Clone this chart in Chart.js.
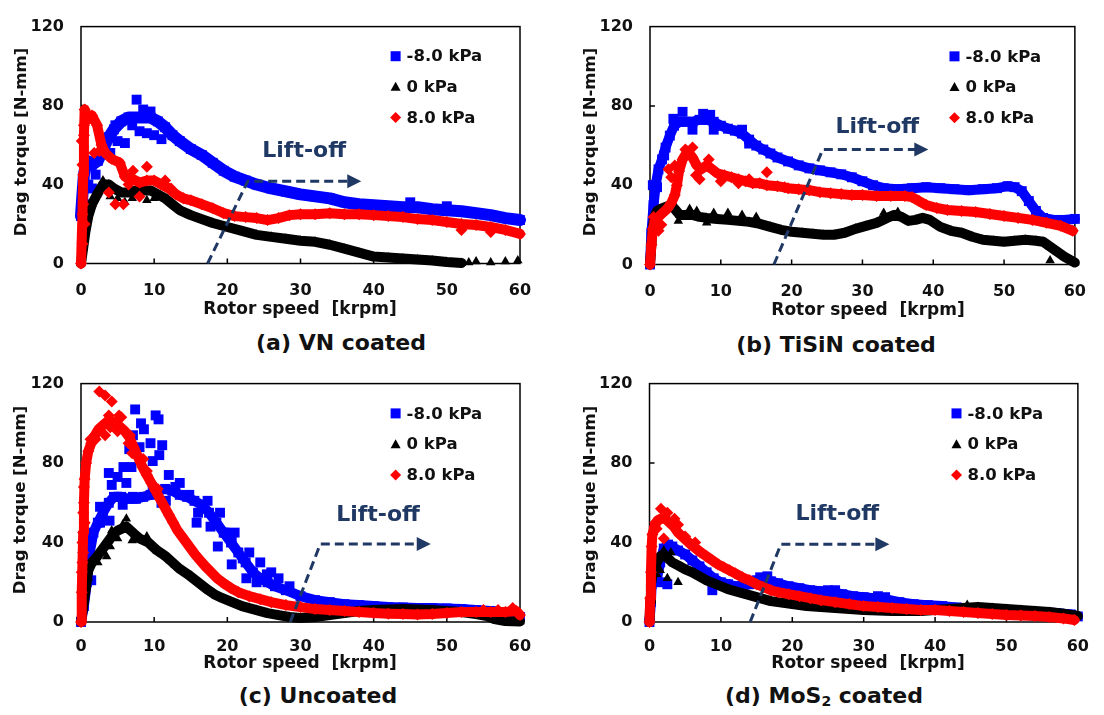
<!DOCTYPE html>
<html lang="en">
<head>
<meta charset="UTF-8">
<title>Drag torque vs rotor speed</title>
<script src="https://cdn.jsdelivr.net/npm/chart.js"></script>
<style>
  body { margin: 0; background: #fff; }
  #fig { position: relative; width: 1104px; height: 715px; font-family: "DejaVu Sans", sans-serif; font-weight: bold; color: #111; }
  #fig canvas { position: absolute; }
  .cap { position: absolute; font-size: 22px; transform: translate(-50%, -50%); white-space: nowrap; }
  .xt { position: absolute; font-size: 17px; transform: translate(-50%, -50%); white-space: nowrap; }
  .yt { position: absolute; font-size: 16.5px; transform: translate(-50%, -50%) rotate(-90deg); white-space: nowrap; }
  sub { font-size: 14px; vertical-align: -3px; line-height: 0; }
</style>
</head>
<body>
<div id="fig">
  <canvas id="chartA" width="552" height="320" style="left:0;top:0"></canvas>
  <canvas id="chartB" width="552" height="320" style="left:552px;top:0"></canvas>
  <canvas id="chartC" width="552" height="320" style="left:0;top:357px"></canvas>
  <canvas id="chartD" width="552" height="320" style="left:552px;top:357px"></canvas>

  <div class="yt" style="left:20px;top:142px">Drag torque [N-mm]</div>
  <div class="yt" style="left:589px;top:142px">Drag torque [N-mm]</div>
  <div class="yt" style="left:19px;top:500px">Drag torque [N-mm]</div>
  <div class="yt" style="left:589px;top:500px">Drag torque [N-mm]</div>

  <div class="xt" style="left:300px;top:308px">Rotor speed&nbsp; [krpm]</div>
  <div class="xt" style="left:868px;top:309px">Rotor speed&nbsp; [krpm]</div>
  <div class="xt" style="left:300px;top:662px">Rotor speed&nbsp; [krpm]</div>
  <div class="xt" style="left:868px;top:662px">Rotor speed&nbsp; [krpm]</div>

  <div class="cap" style="left:341px;top:342px">(a) VN coated</div>
  <div class="cap" style="left:836px;top:344px">(b) TiSiN coated</div>
  <div class="cap" style="left:318px;top:695px">(c) Uncoated</div>
  <div class="cap" style="left:824px;top:695px">(d) MoS<sub>2</sub> coated</div>
</div>

<script>
// ---- data: [rotor speed krpm, drag torque N-mm] ----
const seriesNames = ['-8.0 kPa', '0 kPa', '8.0 kPa'];
const xTickValues = [0, 10, 20, 30, 40, 50, 60];
const yTickValues = [0, 40, 80, 120];

// (a) VN coated
const vnNeg = [[0,24],[0.2,35],[0.4,45],[0.8,52],[1.5,50],[2.3,52],[3,58],[3.8,64],[4.5,68],[5.5,72],[6.5,74],[7.5,74],[8.5,74],[9.5,74],[10.5,72],[11.5,69],[12.5,65],[13.5,62],[15,58],[16.5,55],[18,51],[19.5,47],[21,44],[22.5,42],[24,40],[26,38],[28,36.5],[30,35],[32,34],[34,33],[36,31],[38,30],[40,29.5],[42,29],[44,28.5],[46,28.5],[48,27.5],[50,27],[52,26.5],[54,25.5],[56,24.5],[58,23],[60,22]];
const vnNegDots = [[7.6,83],[8.5,78],[9.5,77],[7,70],[8,67],[9,66],[10,65],[11,63],[5,62],[4,56],[1,40],[1.5,38],[2,45],[0.5,30],[6,61],[45,31],[50,29],[3.3,61],[4.7,70]];
const vnZero = [[0,0],[0.3,8],[0.6,16],[1,24],[1.5,30],[2.2,35],[3,40],[3.8,40],[4.5,38],[5.5,36],[6.5,36],[7.5,37],[8.5,37],[9.5,37],[10.5,35],[11.5,33],[12.5,30],[13.5,27],[15,24.5],[16.5,22.5],[18,20.5],[20,18.5],[22,16.5],[24,14.5],[26,13.5],[28,12.5],[30,11.5],[32,11],[34,9.5],[36,7.5],[38,5.5],[40,3.5],[42,3],[44,2.5],[46,2],[48,1.5],[50,0.8],[52,0.3]];
const vnZeroDots = [[3,42],[5,33],[6,31],[7,33],[9,32],[10,33],[4,34],[54,1],[56,0.5],[58,1],[59.7,1.5],[53,0.5]];
const vnPos = [[0,0],[0.2,25],[0.3,45],[0.4,65],[0.5,78],[1,73],[1.5,75],[2.2,70],[2.8,60],[3.3,56],[4.2,53],[5.3,51],[6,44],[7,43],[8,41],[9,42],[10,42],[11,40],[12,38],[13,35],[14,33],[15,32],[16.5,30],[18,28],[19.5,25.5],[21,24],[22.5,23.5],[24,23],[25.5,22],[27,23],[28.5,24.5],[30,25],[32,25],[34,25.5],[36,25],[38,25],[40,24.5],[42,24],[44,23.5],[46,22.5],[48,22],[50,21],[52,20],[54,19.5],[56,18.5],[58,17],[60,15]];
const vnPosDots = [[0.2,50],[0.1,62],[0.4,70],[1.8,56],[2.5,57],[3.8,36],[4.7,30],[5.8,30],[7.1,47],[9,49],[6.5,40],[8,34],[11.5,42],[12.3,38],[0.5,20],[0.3,30],[0.2,10],[52,17],[56,16]];
const vnLift = [[17.3,0],[22.8,41.7],[38.3,41.7]];
const vnLiftLabel = [30.5, 57];

// (b) TiSiN coated
const tiNeg = [[0,0],[0.2,16],[0.5,30],[0.8,40],[1.2,48],[1.7,53],[2.2,59],[2.8,65],[3.4,70],[4.2,72],[5,72],[6,72],[7,73],[8,73],[9,72],[10,70],[11,68.5],[12,67.5],[13,66],[14,63],[15,60],[16,58],[17,56],[18,54],[19.5,52],[21,50],[22.5,48.5],[24,47.5],[25.5,46.5],[27,45.5],[28.5,44],[30,42],[31.5,40],[33,38.5],[35,38],[37,38.5],[39,39],[41,38.5],[43,38],[45,37.5],[47,38],[49,38.5],[50.5,39.5],[51.5,39],[52.5,37],[53.5,32],[54.5,27],[55.5,23.5],[57,22.5],[58.5,22.5],[60,23]];
const tiNegDots = [[4.6,77],[7.5,76],[8.5,75.5],[3.3,73.5],[2,55],[0.4,40],[1,39],[14,61],[13,68],[6,68],[9,68]];
const tiZero = [[0,0],[0.3,15],[0.6,24],[1,27],[1.5,28],[2.2,29],[3,30],[3.5,28],[4.2,25],[5,25],[6,25],[7,24],[8,23.5],[9.5,23],[11,22.5],[12.5,22],[14,21.5],[15.5,20.5],[17,19],[18.5,17.5],[20,16.5],[21.5,16],[23,15.5],[24.5,15],[26,15],[27.5,16],[29,18],[30.5,19.5],[32,21],[33.5,23.5],[34.5,25],[35.5,24],[36.5,22],[37.5,22.5],[38.5,23.5],[39.5,22.5],[41,19],[42.5,17],[44,16],[45.5,14],[47,12.5],[48.5,12],[50,11.5],[51.5,12],[53,12.5],[54.5,12],[55.5,11.5],[56.5,9],[57.5,6.5],[58.5,4],[59.5,2],[60,1]];
const tiZeroDots = [[56.5,2],[3.1,32],[5.6,28],[6.6,27],[9,26],[11,26],[13,25],[15,24],[33,26],[35,26.5],[4,22],[8,21]];
const tiPos = [[0,0],[0.2,10],[0.4,18],[0.7,22],[1.2,24],[1.8,26],[2.4,28],[3,31],[3.5,35],[3.8,40],[4.1,47],[4.6,53],[5.3,57],[6,54],[6.6,50],[7.2,48],[8,50],[8.8,48],[9.5,46],[10.5,45],[11.5,44],[12.5,43],[13.5,42],[14.5,41],[15.5,41],[16.5,40],[18,39.5],[19.5,38.5],[21,38],[22.5,37.5],[24,36.5],[25.5,36],[27,35.5],[28.5,35],[30,35],[32,34.5],[34,34.5],[36,34.5],[37,34],[38,32],[39,30],[40.5,28.5],[42,27.5],[44,27],[46,26.5],[48,25.5],[50,24.5],[52,23.5],[54,22.5],[56,21],[58,19.5],[59.7,17]];
const tiPosDots = [[2.6,48],[3.5,50],[5,58],[6,59],[7,43],[6.5,45],[8.3,53],[16.5,46.5],[14,43],[3,44],[1.2,17],[1.6,20],[0.5,24],[12.5,41],[19,39],[10,42]];
const tiLift = [[17.5,0],[24.4,58],[39.3,58]];
const tiLiftLabel = [32.1, 69.2];

// (c) Uncoated
const unNeg = [[0,0],[0.4,8],[0.8,20],[1.2,35],[1.7,45],[2.3,50],[3,55],[3.8,60],[4.5,63],[5.5,63],[6.5,62],[7.5,62],[8.5,63],[9.5,64],[10.5,66],[11.5,67],[12.5,66],[13.5,64],[14.5,63],[15.5,61],[16.5,59],[17.5,55],[18.5,50],[19.5,45],[20.5,40],[21.5,35],[22.5,30],[23.5,25],[24.5,22],[25.5,20],[26.5,18],[28,16],[30,13],[32,11],[34,10],[36,9],[38,8.5],[40,8],[42,7.5],[44,7.3],[46,7],[48,7],[50,6.8],[52,6.5],[54,6],[56,5.5],[58,4.5],[60,2.5]];
const unNegDots = [[5,73],[5.8,78],[6.2,70],[4.2,69],[3.8,75],[7.1,94],[7.4,107],[8.2,100],[8.6,97],[9.5,90],[10.2,104],[10.6,102],[11.1,89],[12,74],[12.9,68],[10.7,84],[9.8,81],[8,88],[6.6,87],[6.9,78],[14.8,64],[15.8,50],[17.3,61],[17.7,48],[18.7,38],[19.7,45],[20.6,42],[20.6,29],[22.1,32],[22.6,22],[24,20],[25.4,24],[24.5,30],[23,35],[21,45],[19,55],[16,55],[13.5,70],[7.1,63],[9.8,66],[11.6,61],[5.7,59],[2.6,58],[2.6,50],[3.9,51],[1.4,21],[11,60],[27,22],[28.5,18],[26,25]];
const unZero = [[0,0],[0.2,5],[0.4,10],[0.7,18],[1,26],[1.5,30],[2,32],[2.6,35],[3.2,38],[3.8,41],[4.4,44],[5,46],[5.6,47],[6.2,48],[6.8,46],[7.4,44],[8,42],[8.6,41],[9.2,40],[9.8,38],[10.4,36],[11,34.5],[11.6,33],[12.2,31],[12.8,29],[13.4,27],[14,25.5],[14.6,24],[15.3,22],[16,20],[16.7,18],[17.4,16],[18.2,14],[19,12.5],[20,11],[21,9.5],[22,8],[23,7],[24,6],[25.5,4.5],[27,3.5],[28.5,2.5],[30,2],[32,2.5],[34,3.5],[36,4.5],[38,5.5],[40,6],[42,6.3],[44,6.5],[46,6.3],[48,6],[50,5.5],[52,5],[54,4],[55.5,3],[56.5,1.5],[58,0.5],[60,0.3]];
const unZeroDots = [[6.2,52],[5.7,49],[4.2,46],[3,35],[2.3,30],[1,22],[5,42],[7,41],[9,43],[4,38],[3.5,33]];
const unPos = [[0,0],[0.1,15],[0.2,30],[0.3,45],[0.4,60],[0.5,72],[0.7,80],[1,86],[1.4,90],[1.9,94],[2.4,97],[3,99],[3.6,101],[4.2,101],[4.8,100],[5.4,98],[6,96],[6.6,93],[7.2,88],[7.8,83],[8.4,78],[9,74],[9.6,70],[10.2,66],[10.8,62],[11.4,58],[12,54],[12.6,50],[13.2,46],[13.8,43],[14.4,40],[15,37],[15.6,34],[16.3,31],[17,28],[17.8,25],[18.6,22],[19.5,19.5],[20.5,17],[21.5,15],[23,13],[24.5,11.5],[26,10],[28,8.5],[30,7.5],[32,6.5],[34,6],[36,5.5],[38,5],[40,4.5],[42,4.2],[44,4],[46,3.8],[48,4],[50,4.5],[52,5],[54,5],[56,5],[58,5],[59.5,5.5],[60,3.5]];
const unPosDots = [[2.5,116],[3.3,114],[4.2,111],[3.8,104],[5.2,104],[5,96],[6.7,94],[3.3,94],[2,92],[1.3,92],[5.5,103],[4,98],[6.5,90],[7,85],[8.5,82],[9,76],[10.5,67],[0.3,55],[0.2,40],[0.1,25],[0.4,68],[0.5,50],[0.3,35],[59,7],[57,6],[55,6]];
const unLift = [[28.6,0],[32.7,39.2],[47.8,39.2]];
const unLiftLabel = [40.6, 53.9];

// (d) MoS2 coated
const moNeg = [[0,0],[0.2,10],[0.3,19],[0.6,22],[1,21],[1.5,30],[2,37],[2.6,39],[3.2,38],[4,36],[5,34],[6,31],[7,28],[8,25],[9,22],[10,20],[11,19],[12,18],[13,18],[14,19],[15,21],[16,21.5],[17,20.5],[18,19.5],[19.5,18],[21,17],[22.5,16],[24,15.5],[25.5,15],[27,14],[28.5,13],[30,12.5],[31.5,12],[33,11.5],[35,10],[37,9],[39,8.5],[41,8],[43,7.3],[45,6.8],[47,6.3],[49,6],[51,5.8],[53,5.3],[55,5],[57,4.5],[59,3.8],[60,2.8]];
const moNegDots = [[2.5,19],[1.5,20],[8.8,16],[10.7,19],[15.5,22.5],[16.5,23],[25,16],[26,16],[32,13],[33,12.5]];
const moZero = [[0,0],[0.1,10],[0.2,19],[0.5,25],[1,30],[1.5,33],[2,34],[2.6,32],[3.2,30],[4,28.5],[5,26.5],[6,25],[7,23],[8,21],[9,19.5],[10,18],[11,16.5],[12,15.5],[13,14.5],[14,13.5],[15,12.5],[16,11.5],[17,10.5],[18,10],[19,9.5],[20,9],[22,8],[24,7.5],[26,7],[28,6.5],[30,6],[32,5.8],[34,5.5],[36,5.5],[38,5.5],[40,6],[42,6.5],[44,7],[46,7.5],[48,7],[50,6.5],[52,6],[54,5.5],[56,5],[58,4.2],[60,3]];
const moZeroDots = [[4,20],[2,36],[1.5,26],[2.5,22],[1,24],[3,35],[44.5,8.5]];
const moPos = [[0,0],[0.1,12],[0.2,25],[0.3,38],[0.4,44],[0.7,48],[1.1,51],[1.6,52],[2.2,52],[2.8,50],[3.4,48],[4,45],[4.6,43],[5.2,41],[5.8,39],[6.5,37],[7.2,35],[8,33],[8.8,31],[9.6,29],[10.4,27.5],[11.2,26],[12,24.5],[13,22.5],[14,21],[15,19],[16,17.5],[17,16],[18,15],[19.5,14],[21,13],[22.5,12],[24,11],[26,10],[28,9],[30,8],[32,7.5],[34,7],[36,6.5],[38,6],[40,6],[42,5.5],[44,5],[46,4.5],[48,4],[50,3.5],[52,3.3],[54,3],[56,2.5],[58,1.8],[59.5,1]];
const moPosDots = [[1.6,57],[2.5,55],[3.5,52],[4,49],[0.8,50],[2,42],[5,43],[6.4,40],[1,47]];
const moLift = [[14.1,0],[18.4,39.1],[33.6,39.1]];
const moLiftLabel = [26.3, 54];

// ---- chart setup ----
const NAVY = '#1f3864';
const FONT = '"DejaVu Sans", sans-serif';

const toPts = arr => arr.map(([x, y]) => ({ x, y }));

const figPlugin = {
  id: 'fig',
  beforeDatasetsDraw(chart) {
    const { ctx, chartArea: a, scales: { x, y } } = chart;
    ctx.save();
    ctx.strokeStyle = '#000';
    ctx.lineWidth = 1.5;
    ctx.strokeRect(a.left, a.top, a.right - a.left, a.bottom - a.top);
    ctx.beginPath();
    xTickValues.slice(1, -1).forEach(v => {
      const px = x.getPixelForValue(v);
      ctx.moveTo(px, a.bottom); ctx.lineTo(px, a.bottom - 5);
    });
    yTickValues.slice(1, -1).forEach(v => {
      const py = y.getPixelForValue(v);
      ctx.moveTo(a.left, py); ctx.lineTo(a.left + 5, py);
    });
    ctx.stroke();
    ctx.restore();
  },
  afterDatasetsDraw(chart, args, opts) {
    const { ctx, scales: { x, y } } = chart;
    const [p0, p1, p2] = opts.lift.map(([vx, vy]) => [x.getPixelForValue(vx), y.getPixelForValue(vy)]);
    ctx.save();
    // lift-off arrow
    ctx.strokeStyle = NAVY;
    ctx.fillStyle = NAVY;
    ctx.lineWidth = 3;
    ctx.setLineDash([9, 5]);
    ctx.beginPath();
    ctx.moveTo(p0[0], p0[1]);
    ctx.lineTo(p1[0], p1[1]);
    ctx.lineTo(p2[0] - 13, p2[1]);
    ctx.stroke();
    ctx.setLineDash([]);
    ctx.beginPath();
    ctx.moveTo(p2[0], p2[1]);
    ctx.lineTo(p2[0] - 14, p2[1] - 7);
    ctx.lineTo(p2[0] - 14, p2[1] + 7);
    ctx.closePath();
    ctx.fill();
    ctx.font = 'bold 22px ' + FONT;
    ctx.textAlign = 'center';
    ctx.textBaseline = 'middle';
    ctx.fillText('Lift-off', x.getPixelForValue(opts.label[0]), y.getPixelForValue(opts.label[1]));

    // legend
    const lx = x.getPixelForValue(43);
    const rows = [105, 89.5, 74];
    ctx.font = 'bold 16.5px ' + FONT;
    ctx.textAlign = 'left';
    rows.forEach((rv, i) => {
      const ly = y.getPixelForValue(rv);
      ctx.beginPath();
      if (i === 0) {
        ctx.fillStyle = '#0000ff';
        ctx.rect(lx - 5, ly - 5, 10, 10);
      } else if (i === 1) {
        ctx.fillStyle = '#000';
        ctx.moveTo(lx, ly - 5); ctx.lineTo(lx + 5, ly + 4); ctx.lineTo(lx - 5, ly + 4); ctx.closePath();
      } else {
        ctx.fillStyle = '#ff0000';
        ctx.moveTo(lx, ly - 5.5); ctx.lineTo(lx + 5.5, ly); ctx.lineTo(lx, ly + 5.5); ctx.lineTo(lx - 5.5, ly); ctx.closePath();
      }
      ctx.fill();
      ctx.fillStyle = '#111';
      ctx.fillText(seriesNames[i], lx + 11, ly + 1);
    });
    ctx.restore();
  }
};

function series(data, color, style, radius, order, line, width) {
  return {
    data: toPts(data),
    showLine: line,
    borderColor: color,
    backgroundColor: color,
    borderWidth: width,
    borderJoinStyle: 'round',
    borderCapStyle: 'round',
    pointStyle: style,
    pointRadius: radius,
    pointBorderWidth: 0,
    order: order,
    clip: false
  };
}

function makePanel(id, s, geo) {
  const datasets = [
    series(s.pos, '#ff0000', 'rectRot', 6, 0, true, 10),
    series(s.posDots, '#ff0000', 'rectRot', 6, 0, false, 0),
    series(s.zero, '#000000', 'triangle', 5.5, 1, true, 10),
    series(s.zeroDots, '#000000', 'triangle', 5.5, 1, false, 0),
    series(s.neg, '#0000ff', 'rect', 7, 2, true, geo.negWidth || 10),
    series(s.negDots, '#0000ff', 'rect', 7, 2, false, 0)
  ];
  return new Chart(document.getElementById(id), {
    type: 'scatter',
    data: { datasets },
    options: {
      responsive: false,
      animation: false,
      events: [],
      layout: { padding: { top: 20, right: geo.right, left: 0, bottom: 0 } },
      plugins: {
        legend: { display: false },
        tooltip: { enabled: false },
        fig: { lift: s.lift, label: s.label }
      },
      scales: {
        x: {
          type: 'linear', min: 0, max: 60,
          afterBuildTicks: sc => { sc.ticks = xTickValues.map(v => ({ value: v })); },
          afterFit: sc => { sc.height = geo.xh; },
          grid: { display: false, drawTicks: false },
          border: { display: false },
          ticks: { padding: geo.xpad, color: '#111', font: { family: FONT, weight: 'bold', size: 16 }, maxRotation: 0 }
        },
        y: {
          type: 'linear', min: 0, max: 120,
          afterBuildTicks: sc => { sc.ticks = yTickValues.map(v => ({ value: v })); },
          afterFit: sc => { sc.width = geo.yw; },
          grid: { display: false, drawTicks: false },
          border: { display: false },
          ticks: { padding: 17, color: '#111', font: { family: FONT, weight: 'bold', size: 16 } }
        }
      }
    },
    plugins: [figPlugin]
  });
}

makePanel('chartA', { neg: vnNeg, negDots: vnNegDots, zero: vnZero, zeroDots: vnZeroDots, pos: vnPos, posDots: vnPosDots, lift: vnLift, label: vnLiftLabel },
  { yw: 81, xh: 56.5, right: 32, xpad: 18, negWidth: 12 });
makePanel('chartB', { neg: tiNeg, negDots: tiNegDots, zero: tiZero, zeroDots: tiZeroDots, pos: tiPos, posDots: tiPosDots, lift: tiLift, label: tiLiftLabel },
  { yw: 98, xh: 55.5, right: 17, xpad: 18 });
makePanel('chartC', { neg: unNeg, negDots: unNegDots, zero: unZero, zeroDots: unZeroDots, pos: unPos, posDots: unPosDots, lift: unLift, label: unLiftLabel },
  { yw: 81, xh: 55, right: 32, xpad: 15 });
makePanel('chartD', { neg: moNeg, negDots: moNegDots, zero: moZero, zeroDots: moZeroDots, pos: moPos, posDots: moPosDots, lift: moLift, label: moLiftLabel },
  { yw: 97.5, xh: 55, right: 17, xpad: 15 });
</script>
</body>
</html>
